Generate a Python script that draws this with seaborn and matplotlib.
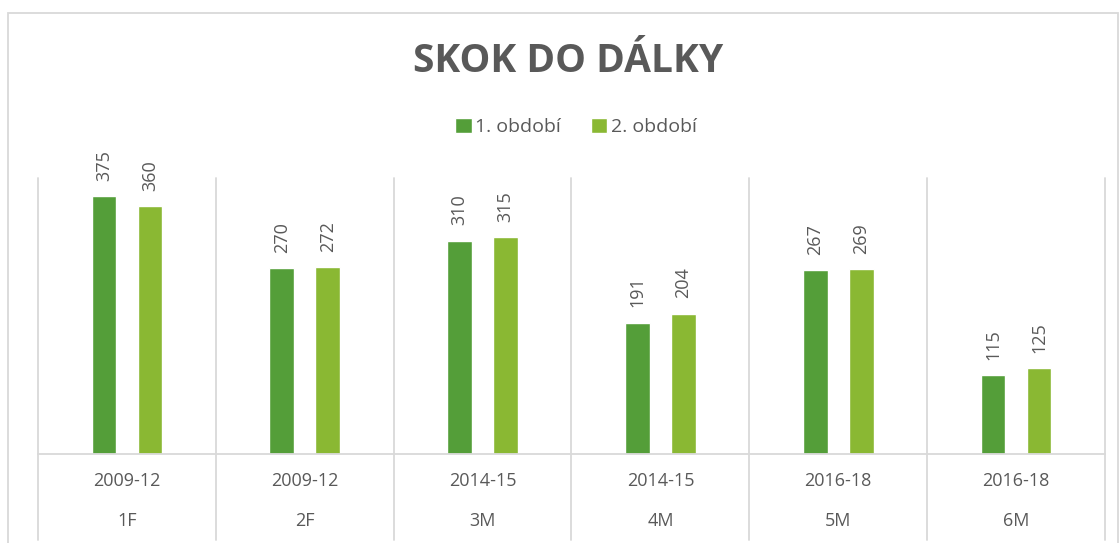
import pandas as pd
import matplotlib
matplotlib.use("Agg")
import matplotlib.pyplot as plt
from matplotlib.patches import Rectangle
import seaborn as sns

# data
obdobi_roky = ["2009-12", "2009-12", "2014-15", "2014-15", "2016-18", "2016-18"]
skupiny = ["1F", "2F", "3M", "4M", "5M", "6M"]
serie = ["1. období", "2. období"]
obdobi_1 = [375, 270, 310, 191, 267, 115]
obdobi_2 = [360, 272, 315, 204, 269, 125]

DARK = "#549E39"
LIGHT = "#8AB833"
TEXT = "#595959"
GRID = "#D9D9D9"

df = pd.DataFrame({
    "skupina": skupiny * 2,
    "obdobi": [serie[0]] * len(skupiny) + [serie[1]] * len(skupiny),
    "hodnota": obdobi_1 + obdobi_2,
})

sns.set_style("white")
plt.rcParams["font.family"] = ["Open Sans", "DejaVu Sans"]

fig = plt.figure(figsize=(11.19, 5.43), dpi=100)
ax = fig.add_axes([38 / 1119, 1 - 454 / 543, (1105 - 38) / 1119, 276 / 543])

sns.barplot(data=df, x="skupina", y="hodnota", hue="obdobi", order=skupiny,
            hue_order=serie, palette=[DARK, LIGHT], width=0.517, gap=0.465,
            saturation=1, ax=ax)

for cont in ax.containers:
    ax.bar_label(cont, rotation=90, padding=11, color=TEXT, fontsize=13)

ax.set_ylim(0, 401)
ax.set_xlim(-0.5, len(skupiny) - 0.5)
ax.set_yticks([])
ax.set_xlabel("")
ax.set_ylabel("")
for s in ["top", "left", "right"]:
    ax.spines[s].set_visible(False)
ax.spines["bottom"].set_color(GRID)
ax.spines["bottom"].set_linewidth(1.3)

# separators between categories, running down through the label area
for i in range(len(skupiny) + 1):
    ax.plot([i - 0.5, i - 0.5], [-0.31, 1], transform=ax.get_xaxis_transform(),
            color=GRID, lw=1.3, clip_on=False)

# two-level category axis: period on the first row, group on the second
ax.set_xticks(range(len(skupiny)))
ax.set_xticklabels(obdobi_roky, fontsize=13, color=TEXT)
ax.tick_params(axis="x", length=0, pad=13)
for i, g in enumerate(skupiny):
    ax.text(i, -0.243, g, transform=ax.get_xaxis_transform(), ha="center",
            va="center", fontsize=13, color=TEXT)

leg = ax.legend(loc="center", bbox_to_anchor=(576 / 1119, 1 - 127 / 543),
                bbox_transform=fig.transFigure, ncol=2, frameon=False,
                fontsize=14, handlelength=0.85, handleheight=0.85,
                handletextpad=0.2, columnspacing=1.5)
for t in leg.get_texts():
    t.set_color(TEXT)

fig.text(568 / 1119, 1 - 61 / 543, "SKOK DO DÁLKY", ha="center", va="center",
         fontsize=28, fontweight="bold", color=TEXT)

fig.patches.append(Rectangle((8 / 1119, -0.02), (1118 - 8) / 1119, 1.02 - 13 / 543,
                             transform=fig.transFigure, fill=False,
                             edgecolor=GRID, lw=1.3))

fig.savefig("out.png", dpi=100)
